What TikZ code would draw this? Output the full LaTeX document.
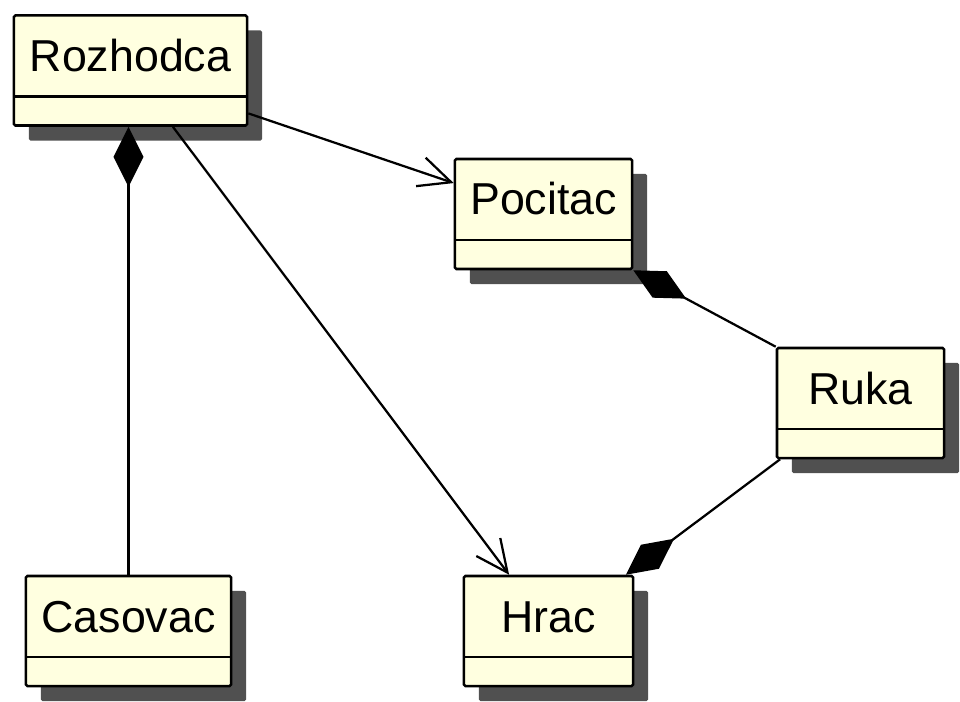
\documentclass[tikz,border=0pt]{standalone}
\usepackage{fontspec}
\setmainfont{Liberation Sans}
\usetikzlibrary{arrows.meta,shadows}

\definecolor{nenlop}{RGB}{255,255,224}
\definecolor{bong}{RGB}{80,80,80}

\tikzset{
    lop/.style={draw, line width=1.8pt, fill=nenlop, rounded corners=1pt,
        inner sep=0pt, minimum height=2.75cm,
        text height=0.85cm, text depth=0.80cm,
        font=\fontsize{31.8}{38}\selectfont,
        drop shadow={shadow xshift=0.375cm, shadow yshift=-0.375cm,
            fill=bong, opacity=1},
        path picture={\draw[line width=1.8pt]
            ([yshift=0.725cm]path picture bounding box.south west) --
            ([yshift=0.725cm]path picture bounding box.south east);}},
    huong/.style={-{Straight Barb[length=0.8cm, width=0.75cm]}, line width=1.6pt},
    hop/.style={-{Diamond[length=1.5cm, width=0.75cm]}, line width=1.6pt}
}

\begin{document}
\begin{tikzpicture}[x=0.025cm, y=-0.025cm]
    \useasboundingbox (0,0) rectangle (960,702);

    % 1. Cac lop
    \node[lop, minimum width=5.825cm] (rozhodca) at (130.5,70.5) {Rozhodca};
    \node[lop, minimum width=4.425cm] (pocitac) at (543.5,214) {Pocitac};
    \node[lop, minimum width=4.175cm] (ruka) at (860.5,403) {Ruka};
    \node[lop, minimum width=5.125cm] (casovac) at (128.5,631) {Casovac};
    \node[lop, minimum width=4.225cm] (hrac) at (548.5,631) {Hrac};

    % 2. Lien ket co huong
    \draw[huong] (rozhodca.-20) -- (pocitac.161);
    \draw[huong] (rozhodca.-53) -- (hrac.125);

    % 3. Hop thanh (hinh thoi den)
    \draw[hop] (casovac.north) -- (casovac.north |- rozhodca.south);
    \draw[hop] (ruka.north west) -- (pocitac.south east);
    \draw[hop] (ruka.215) -- (hrac.36);
\end{tikzpicture}
\end{document}
